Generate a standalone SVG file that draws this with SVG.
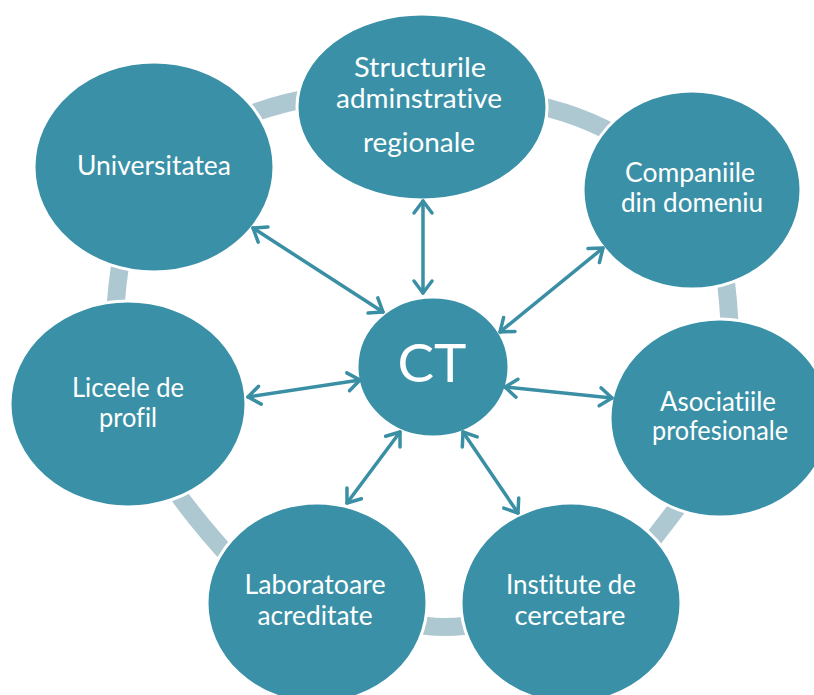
<svg xmlns="http://www.w3.org/2000/svg" width="814" height="695" viewBox="0 0 814 695">
  <style>
    .ring { fill: none; stroke: #AEC8D2; stroke-width: 18; }
    .node { fill: #3A91A7; stroke: #FFFFFF; stroke-width: 3; }
    .label { fill: #FFFFFF; font-family: Lato, "Open Sans", "Liberation Sans", sans-serif; font-size: 26px; text-anchor: middle; font-variant-ligatures: none; }
    .big { font-size: 52px; }
    .link { stroke: #3A8FA5; stroke-width: 3.5; stroke-linecap: round; fill: none; marker-start: url(#chev); marker-end: url(#chev); }
  </style>
  <defs>
    <marker id="chev" viewBox="-16 -16 32 32" markerWidth="32" markerHeight="32" refX="0" refY="0" markerUnits="userSpaceOnUse" orient="auto-start-reverse" overflow="visible">
      <path d="M -12 -9 L 0 0 L -12 9" fill="none" stroke="#3A8FA5" stroke-width="3.5" stroke-linecap="round" stroke-linejoin="round"/>
    </marker>
  </defs>
  <rect width="814" height="695" fill="#FFFFFF"/>

  <!-- cycle band segments between neighbouring nodes -->
  <g id="ring">
    <path class="ring" d="M 230 122 Q 272 104 320 96"/>
    <path class="ring" d="M 520 102 Q 580 112 628 142"/>
    <path class="ring" d="M 724 268 Q 729 300 730 338"/>
    <path class="ring" d="M 692 488 Q 672 515 640 556"/>
    <path class="ring" d="M 405 622 Q 445 632 485 622"/>
    <path class="ring" d="M 160 468 Q 190 515 238 566"/>
    <path class="ring" d="M 121 258 Q 117 285 115 312"/>
  </g>

  <g id="node-structurile">
    <ellipse class="node" cx="422" cy="107" rx="125" ry="93"/>
    <text class="label" x="420" y="77" textLength="132" lengthAdjust="spacingAndGlyphs">Structurile</text>
    <text class="label" x="419" y="108" textLength="166" lengthAdjust="spacingAndGlyphs">adminstrative</text>
    <text class="label" x="419" y="152" textLength="112" lengthAdjust="spacingAndGlyphs">regionale</text>
  </g>
  <g id="node-universitatea">
    <ellipse class="node" cx="154" cy="167" rx="120" ry="105"/>
    <text class="label" x="154" y="175" textLength="154" lengthAdjust="spacingAndGlyphs">Universitatea</text>
  </g>
  <g id="node-companiile">
    <ellipse class="node" cx="692" cy="190" rx="109" ry="99"/>
    <text class="label" x="690" y="182" textLength="130" lengthAdjust="spacingAndGlyphs">Companiile</text>
    <text class="label" x="692" y="212" textLength="142" lengthAdjust="spacingAndGlyphs">din domeniu</text>
  </g>
  <g id="node-liceele">
    <ellipse class="node" cx="128" cy="404" rx="118" ry="103"/>
    <text class="label" x="128" y="397" textLength="112" lengthAdjust="spacingAndGlyphs">Liceele de</text>
    <text class="label" x="128" y="427" textLength="58" lengthAdjust="spacingAndGlyphs">profil</text>
  </g>
  <g id="node-asociatiile">
    <ellipse class="node" cx="720" cy="418" rx="110" ry="99"/>
    <text class="label" x="718" y="411" textLength="116" lengthAdjust="spacingAndGlyphs">Asociatiile</text>
    <text class="label" x="720" y="440" textLength="136" lengthAdjust="spacingAndGlyphs">profesionale</text>
  </g>
  <g id="node-laboratoare">
    <ellipse class="node" cx="317" cy="603" rx="110" ry="100"/>
    <text class="label" x="315" y="594" textLength="141" lengthAdjust="spacingAndGlyphs">Laboratoare</text>
    <text class="label" x="315" y="625" textLength="115" lengthAdjust="spacingAndGlyphs">acreditate</text>
  </g>
  <g id="node-institute">
    <ellipse class="node" cx="571" cy="603" rx="110" ry="100"/>
    <text class="label" x="571" y="594" textLength="130" lengthAdjust="spacingAndGlyphs">Institute de</text>
    <text class="label" x="570" y="625" textLength="111" lengthAdjust="spacingAndGlyphs">cercetare</text>
  </g>
  <g id="node-ct">
    <ellipse class="node" cx="433" cy="367" rx="76" ry="70"/>
    <text class="label big" x="432" y="382" textLength="69" lengthAdjust="spacingAndGlyphs">CT</text>
  </g>

  <!-- two-way links from the hub -->
  <g id="connectors">
    <line class="link" x1="383" y1="312" x2="253" y2="228"/>
    <line class="link" x1="423" y1="293" x2="423" y2="201"/>
    <line class="link" x1="500" y1="332" x2="603" y2="248"/>
    <line class="link" x1="360" y1="380" x2="248" y2="397"/>
    <line class="link" x1="505" y1="387" x2="612" y2="398"/>
    <line class="link" x1="400" y1="432" x2="347" y2="503"/>
    <line class="link" x1="463" y1="432" x2="518" y2="513"/>
  </g>
</svg>
